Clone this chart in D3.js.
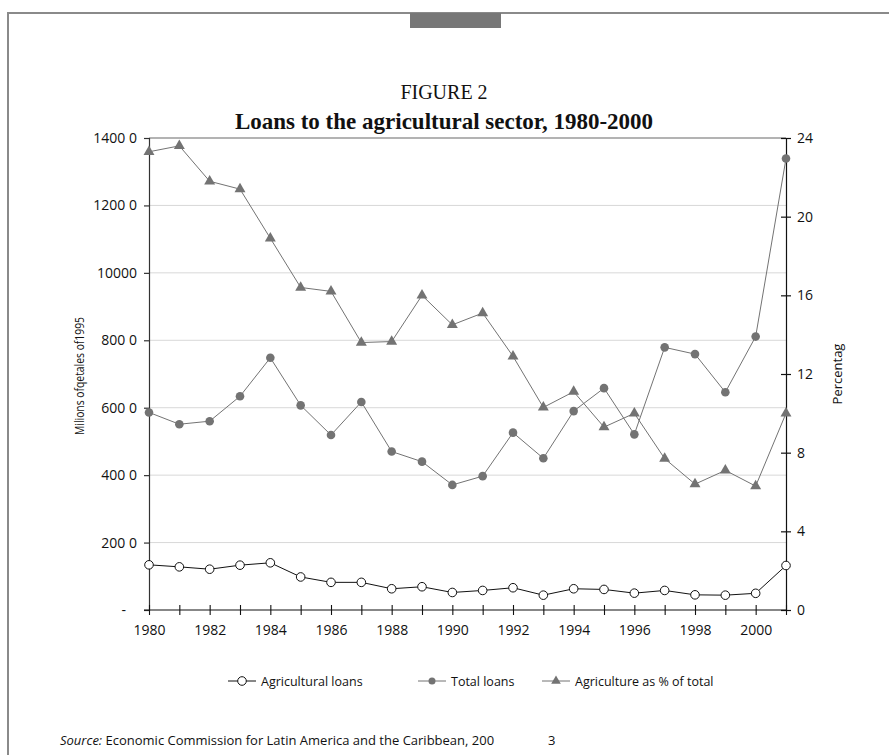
<!DOCTYPE html>
<html>
<head>
<meta charset="utf-8">
<script src="https://cdn.jsdelivr.net/npm/d3@7/dist/d3.min.js"></script>
<style>
  html, body { margin: 0; padding: 0; background: #fff; }
  svg { display: block; }
  .sans { font-family: "Open Sans", "Noto Sans", sans-serif; }
  .serif { font-family: "Liberation Serif", "DejaVu Serif", serif; }
</style>
</head>
<body>
<svg id="chart" width="889" height="755"></svg>
<script>
// ---- data ----
const years = d3.range(1980, 2002);
const agriculturalLoans = [1340, 1280, 1210, 1330, 1400, 980, 820, 820, 630, 690, 520,
                           580, 660, 440, 630, 610, 500, 580, 450, 440, 495, 1320];
const totalLoans = [5860, 5510, 5600, 6340, 7480, 6070, 5190, 6170, 4700, 4400, 3710,
                    3970, 5260, 4500, 5900, 6580, 5210, 7790, 7590, 6460, 8110, 13390];
const agriShare = [23.3, 23.6, 21.8, 21.4, 18.9, 16.4, 16.2, 13.6, 13.65, 16.0, 14.5,
                   15.1, 12.9, 10.3, 11.1, 9.3, 10.0, 7.7, 6.4, 7.1, 6.3, 10.0];
const leftTicks = [0, 2000, 4000, 6000, 8000, 10000, 12000, 14000];
const leftTickLabels = ["-\u00a0\u00a0\u00a0", "200 0", "400 0", "600 0", "800 0", "10000", "1200 0", "1400 0"];
const rightTicks = [0, 4, 8, 12, 16, 20, 24];
const xLabelYears = d3.range(1980, 2001, 2);
const seriesNames = ["Agricultural loans", "Total loans", "Agriculture as % of total"];

// ---- layout ----
const svg = d3.select("#chart");
const plot = { left: 149, right: 786, top: 138, bottom: 610 };

const x = d3.scaleLinear().domain([1980, 2001]).range([plot.left, plot.right]);
const yL = d3.scaleLinear().domain([0, 14000]).range([plot.bottom, plot.top]);
const yR = d3.scaleLinear().domain([0, 24]).range([plot.bottom, plot.top]);

// page frame and tab
svg.append("path")
  .attr("d", "M8,760 L8,13 L895,13")
  .attr("fill", "none").attr("stroke", "#8a8a8a").attr("stroke-width", 2);
svg.append("rect").attr("x", 410).attr("y", 13).attr("width", 91).attr("height", 15)
  .attr("fill", "#777");

// titles
svg.append("text").attr("class", "serif").attr("x", 444).attr("y", 99)
  .attr("text-anchor", "middle").attr("font-size", 20).attr("fill", "#111")
  .text("FIGURE 2");
svg.append("text").attr("class", "serif").attr("x", 444).attr("y", 129)
  .attr("text-anchor", "middle").attr("font-size", 23).attr("font-weight", "bold")
  .attr("fill", "#111")
  .text("Loans to the agricultural sector, 1980-2000");

// gridlines
svg.append("g").selectAll("line")
  .data(leftTicks.filter(d => d > 0))
  .join("line")
  .attr("x1", plot.left).attr("x2", plot.right)
  .attr("y1", d => yL(d)).attr("y2", d => yL(d))
  .attr("stroke", d => d === 14000 ? "#9a9a9a" : "#d8d8d8")
  .attr("stroke-width", d => d === 14000 ? 1.3 : 1);

// left axis
const axL = svg.append("g").attr("transform", `translate(${plot.left},0)`)
  .call(d3.axisLeft(yL).tickValues(leftTicks)
    .tickFormat((d, i) => leftTickLabels[i]).tickSize(5).tickPadding(7));
axL.select(".domain").attr("stroke", "#333").attr("stroke-width", 1.2);
axL.selectAll(".tick line").attr("stroke", "#333").attr("stroke-width", 1.2);
axL.selectAll("text").attr("class", "sans").attr("font-size", 14).attr("fill", "#111");

// right axis
const axR = svg.append("g").attr("transform", `translate(${plot.right},0)`)
  .call(d3.axisRight(yR).tickValues(rightTicks).tickSize(5).tickPadding(6));
axR.select(".domain").attr("stroke", "#111").attr("stroke-width", 1.2);
axR.selectAll(".tick line").attr("x1", -5).attr("stroke", "#111").attr("stroke-width", 1.2);
axR.selectAll("text").attr("class", "sans").attr("font-size", 14).attr("fill", "#111");

// bottom axis
const axB = svg.append("g").attr("transform", `translate(0,${plot.bottom})`)
  .call(d3.axisBottom(x).tickValues(years).tickSize(5)
    .tickFormat(d => xLabelYears.includes(d) ? String(d) : "").tickPadding(10));
axB.select(".domain").attr("stroke", "#111").attr("stroke-width", 1.2)
  .attr("d", `M${plot.left - 5},0H${plot.right}`);
axB.selectAll(".tick line").attr("y1", -5).attr("stroke", "#111").attr("stroke-width", 1.1);
axB.selectAll("text").attr("class", "sans").attr("font-size", 14).attr("fill", "#111");

// axis titles
svg.append("text").attr("class", "sans")
  .attr("transform", `translate(84,376) rotate(-90)`)
  .attr("text-anchor", "middle").attr("font-size", 12.5).attr("fill", "#111")
  .attr("textLength", 118).attr("lengthAdjust", "spacingAndGlyphs")
  .text("Milions ofqetales of1995");
svg.append("text").attr("class", "sans")
  .attr("transform", `translate(842,374) rotate(-90)`)
  .attr("text-anchor", "middle").attr("font-size", 13).attr("fill", "#111")
  .text("Percentag");

// series
const grey = "#737373";
const lineL = d3.line().x((d, i) => x(years[i])).y(d => yL(d));
const lineR = d3.line().x((d, i) => x(years[i])).y(d => yR(d));
const tri = d3.symbol().type(d3.symbolTriangle).size(52);

svg.append("path").datum(agriShare).attr("d", lineR)
  .attr("fill", "none").attr("stroke", grey).attr("stroke-width", 1);
svg.append("g").selectAll("path").data(agriShare).join("path")
  .attr("d", tri)
  .attr("transform", (d, i) => `translate(${x(years[i])},${yR(d)})`)
  .attr("fill", grey);

svg.append("path").datum(totalLoans).attr("d", lineL)
  .attr("fill", "none").attr("stroke", grey).attr("stroke-width", 1);
svg.append("g").selectAll("circle").data(totalLoans).join("circle")
  .attr("cx", (d, i) => x(years[i])).attr("cy", d => yL(d)).attr("r", 4.3)
  .attr("fill", grey);

svg.append("path").datum(agriculturalLoans).attr("d", lineL)
  .attr("fill", "none").attr("stroke", "#111").attr("stroke-width", 1);
svg.append("g").selectAll("circle").data(agriculturalLoans).join("circle")
  .attr("cx", (d, i) => x(years[i])).attr("cy", d => yL(d)).attr("r", 4.3)
  .attr("fill", "#fff").attr("stroke", "#111").attr("stroke-width", 1);

// legend
const legend = svg.append("g").attr("class", "sans");
const legendItems = [
  { x: 228, name: seriesNames[0], stroke: "#111", mark: "open" },
  { x: 418, name: seriesNames[1], stroke: grey, mark: "dot" },
  { x: 542, name: seriesNames[2], stroke: grey, mark: "tri" }
];
legendItems.forEach(it => {
  const g = legend.append("g").attr("transform", `translate(${it.x},681)`);
  g.append("line").attr("x1", 0).attr("x2", 28).attr("stroke", it.stroke).attr("stroke-width", 1);
  if (it.mark === "open") {
    g.append("circle").attr("cx", 14).attr("r", 4.3).attr("fill", "#fff").attr("stroke", "#111");
  } else if (it.mark === "dot") {
    g.append("circle").attr("cx", 14).attr("r", 3.5).attr("fill", grey);
  } else {
    g.append("path").attr("d", d3.symbol().type(d3.symbolTriangle).size(40))
      .attr("transform", "translate(14,0)").attr("fill", grey);
  }
  g.append("text").attr("x", 33).attr("y", 4.5).attr("font-size", 12.5).attr("fill", "#111")
    .text(it.name);
});

// source note
const src = svg.append("text").attr("class", "sans").attr("x", 60).attr("y", 745)
  .attr("font-size", 13).attr("fill", "#111");
src.append("tspan").attr("font-style", "italic").text("Source:");
src.append("tspan").text(" Economic Commission for Latin America and the Caribbean, 200");
svg.append("text").attr("class", "sans").attr("x", 548).attr("y", 745)
  .attr("font-size", 13).attr("fill", "#111").text("3");
</script>
</body>
</html>
